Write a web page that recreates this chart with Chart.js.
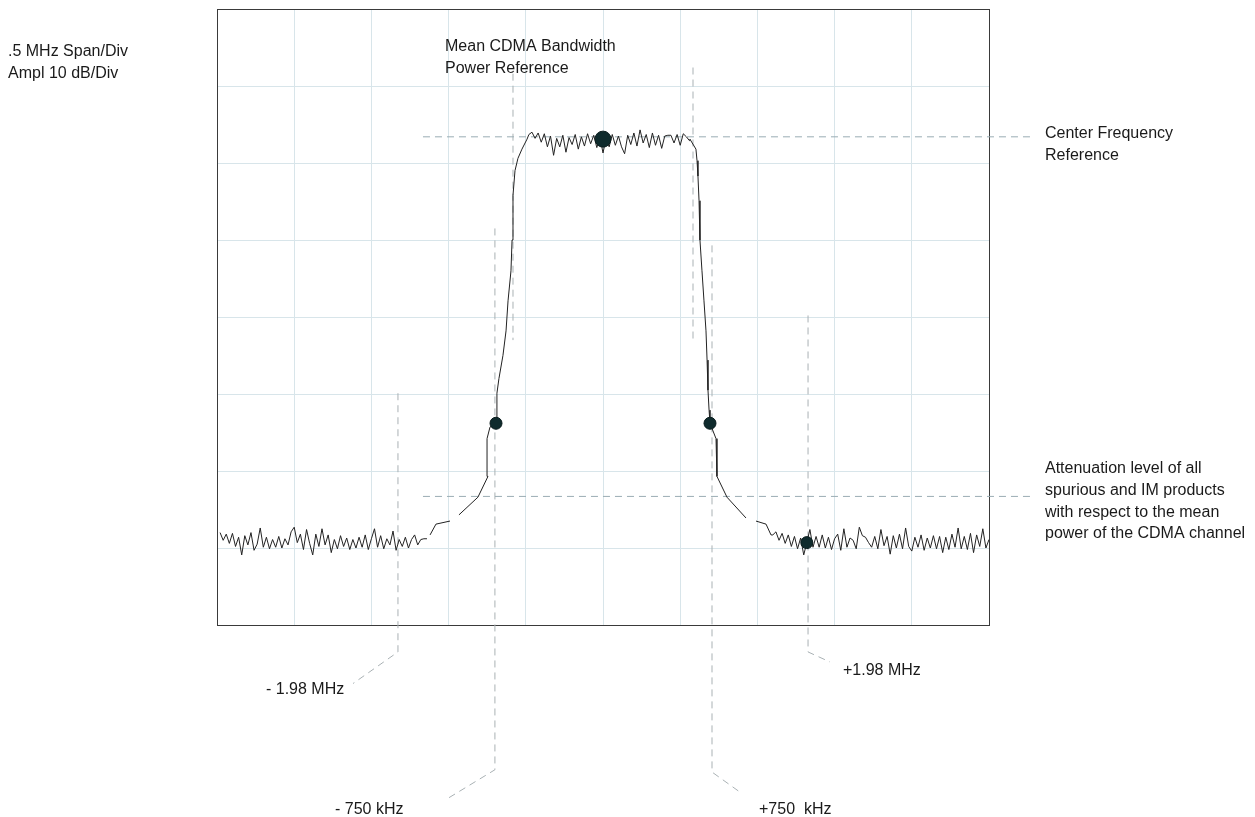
<!DOCTYPE html>
<html>
<head>
<meta charset="utf-8">
<title>CDMA spectrum mask</title>
<script src="https://cdn.jsdelivr.net/npm/chart.js@4.4.1/dist/chart.umd.min.js"></script>
<style>
    html, body { margin: 0; padding: 0; background: #fff; }
    canvas { display: block; }
</style>
</head>
<body>
<canvas id="spectrumChart" width="1255" height="817"></canvas>
<script>

// axes: offset from centre (MHz) and amplitude (dB)
const freqRange = [-2.5, 2.5];
const freqStep = 0.5;
const amplRange = [-80, 0];
const amplStep = 10;

// noise floor / plateau sampled every 0.02 MHz
const binStep = 0.02;

const leftFloorStart = -2.48;
const leftFloorDb = [
    -68.0, -69.0, -68.2, -69.4, -68.1, -69.8, -68.6, -70.9, -68.4, -69.6,
    -68.0, -70.3, -69.5, -67.4, -69.9, -68.6, -70.1, -68.9, -69.9, -68.5,
    -70.0, -68.8, -69.6, -67.9, -67.3, -69.3, -68.2, -70.2, -67.6, -69.4,
    -70.9, -68.2, -69.8, -67.5, -69.6, -68.3, -70.6, -68.9, -70.1, -68.4,
    -69.8, -68.7, -70.2, -68.9, -70.0, -68.6, -69.9, -68.3, -70.2, -68.8,
    -67.5, -69.9, -68.4, -70.1, -68.8, -69.6, -67.8, -70.3, -68.9, -69.8,
    -68.6, -70.0, -68.9, -68.3, -69.6, -68.9, -68.8, -68.8
];

const leftSkirtMhz = [-1.12, -1.082, -0.991, -0.96, -0.933, -0.81, -0.745, -0.751, -0.732, -0.693,
    -0.687, -0.687, -0.674, -0.648, -0.628, -0.615, -0.596, -0.589, -0.583, -0.57, -0.551, -0.525, -0.492];
const leftSkirtDb = [-68.3, -66.9, -66.5, null, -65.7, -63.4, -60.7, -55.8, -54.3, -53.8,
    -52.5, -49.9, -48.0, -45.0, -41.8, -37.9, -34.0, -30.0, -24.2, -21.0, -19.4, -18.2, -16.9];

const plateauStart = -0.48;
const plateauDb = [
    -16.3, -16.0, -16.8, -16.1, -17.3, -16.2, -17.9, -16.5, -19.0, -16.8,
    -17.9, -16.4, -18.6, -16.7, -17.6, -16.3, -18.2, -16.6, -17.8, -16.2,
    -17.5, -16.4, -18.0, -16.6, -18.7, -16.8, -17.9, -16.3, -17.7, -16.5,
    -17.9, -18.8, -16.4, -17.6, -16.1, -17.8, -15.7, -17.4, -16.3, -18.0,
    -16.1, -17.7, -16.4, -18.1, -16.5, -16.4, -16.4, -17.4, -16.3, -17.7,
    -16.2, -16.6, -17.1
];

const rightSkirtMhz = [0.563, 0.602, 0.609, 0.615, 0.622, 0.628, 0.641, 0.654, 0.667, 0.674,
    0.68, 0.687, 0.693, 0.732, 0.738, 0.803, 0.926, 0.96, 0.991, 1.056, 1.088];
const rightSkirtDb = [-16.9, -18.2, -19.7, -21.7, -24.9, -30.0, -34.0, -37.9, -41.8, -45.6,
    -49.5, -52.1, -53.8, -55.8, -60.7, -63.4, -66.1, null, -66.5, -66.9, -68.3];

const rightFloorStart = 1.10;
const rightFloorDb = [
    -68.3, -67.9, -69.0, -68.1, -69.4, -68.3, -69.8, -68.5, -70.1, -68.7,
    -70.9, -69.3, -67.6, -69.9, -68.5, -69.9, -68.3, -70.0, -68.6, -70.2,
    -68.8, -68.2, -70.3, -67.5, -69.9, -68.7, -69.0, -70.1, -67.3, -68.4,
    -68.6, -69.3, -69.9, -68.5, -70.1, -67.6, -69.7, -68.5, -70.8, -68.4,
    -70.0, -68.2, -70.1, -67.4, -69.8, -70.4, -68.6, -69.9, -68.3, -70.3,
    -68.7, -70.0, -68.4, -70.1, -68.5, -70.6, -68.6, -70.2, -68.2, -69.9,
    -67.4, -70.1, -68.5, -70.2, -68.1, -70.6, -68.3, -69.8, -67.5, -70.0,
    -68.9
];

// measurement markers
const markerMhz = [0, -0.693, 0.693, 1.32];
const markerDb = [-16.9, -53.8, -53.8, -69.3];
const markerSize = [8, 6, 6, 6];

// dashed reference / leader lines
const refSpanMhz = [-1.166, 2.785];
const centerRefDb = -16.6;
const attenRefDb = -63.3;
const leaderLines = [
    { mhz: [-0.583, -0.583], db: [-8.4, -43.0] },
    { mhz: [0.583, 0.583], db: [-7.6, -43.0] },
    { mhz: [-0.70, -0.70, -1.02], db: [-28.5, -98.8, -102.7] },
    { mhz: [0.706, 0.706, 0.887], db: [-30.7, -99.1, -101.7] },
    { mhz: [-1.328, -1.328, -1.619], db: [-49.9, -83.5, -87.6] },
    { mhz: [1.328, 1.328, 1.47], db: [-39.8, -83.5, -84.8] }
];

function bins(start, values) {
    return values.map((v, i) => ({ x: start + i * binStep, y: v }));
}

function pairs(xs, ys) {
    return xs.map((x, i) => ({ x: x, y: ys[i] }));
}

const traceData = []
    .concat(bins(leftFloorStart, leftFloorDb))
    .concat([{ x: -1.14, y: null }])
    .concat(pairs(leftSkirtMhz, leftSkirtDb))
    .concat(bins(plateauStart, plateauDb))
    .concat(pairs(rightSkirtMhz, rightSkirtDb))
    .concat(bins(rightFloorStart, rightFloorDb));

const refDatasets = [
    pairs(refSpanMhz, [centerRefDb, centerRefDb]),
    pairs(refSpanMhz, [attenRefDb, attenRefDb])
].concat(leaderLines.map(l => pairs(l.mhz, l.db))).map((d, i) => ({
    data: d,
    borderColor: i < 2 ? "#9aacb4" : "#a9b1b4",
    borderWidth: 1,
    borderDash: [7, 5],
    pointRadius: 0,
    clip: false,
    order: 3
}));

// labels outside the plot
const labelFont = "16px 'Liberation Sans', Arial, sans-serif";
const notes = [
    { text: ".5 MHz Span/Div", x: 8, y: 56 },
    { text: "Ampl 10 dB/Div", x: 8, y: 78 },
    { text: "Mean CDMA Bandwidth", x: 445, y: 51 },
    { text: "Power Reference", x: 445, y: 73 },
    { text: "Center Frequency", x: 1045, y: 138 },
    { text: "Reference", x: 1045, y: 160 },
    { text: "Attenuation level of all", x: 1045, y: 473 },
    { text: "spurious and IM products", x: 1045, y: 495 },
    { text: "with respect to the mean", x: 1045, y: 517 },
    { text: "power of the CDMA channel", x: 1045, y: 538 },
    { text: "- 1.98 MHz", x: 266, y: 694 },
    { text: "+1.98 MHz", x: 843, y: 675 },
    { text: "- 750 kHz", x: 335, y: 814 },
    { text: "+750  kHz", x: 759, y: 814 }
];

const frameAndNotes = {
    id: "frameAndNotes",
    beforeDatasetsDraw(chart) {
        const a = chart.chartArea;
        const ctx = chart.ctx;
        ctx.save();
        ctx.strokeStyle = "#3a3a3a";
        ctx.lineWidth = 1;
        ctx.strokeRect(Math.round(a.left) + 0.5, Math.round(a.top) + 0.5,
            Math.round(a.right - a.left), Math.round(a.bottom - a.top));
        ctx.restore();
    },
    afterDraw(chart) {
        const ctx = chart.ctx;
        ctx.save();
        ctx.font = labelFont;
        ctx.fillStyle = "#1a1a1a";
        ctx.textBaseline = "alphabetic";
        notes.forEach(n => ctx.fillText(n.text, n.x, n.y));
        ctx.restore();
    }
};

new Chart(document.getElementById("spectrumChart"), {
    type: "line",
    data: {
        datasets: [
            {
                data: pairs(markerMhz, markerDb),
                showLine: false,
                pointRadius: markerSize,
                pointBackgroundColor: "#0f2b2d",
                pointBorderColor: "#0a1c1d",
                pointBorderWidth: 1,
                order: 0
            },
            {
                data: traceData,
                borderColor: "#222222",
                borderWidth: 1,
                pointRadius: 0,
                spanGaps: false,
                tension: 0,
                order: 1
            }
        ].concat(refDatasets)
    },
    options: {
        responsive: false,
        animation: false,
        events: [],
        layout: {
            padding: { left: 217, top: 8, right: 266, bottom: 192 }
        },
        plugins: {
            legend: { display: false },
            tooltip: { enabled: false }
        },
        scales: {
            x: {
                type: "linear",
                min: freqRange[0],
                max: freqRange[1],
                ticks: { display: false, stepSize: freqStep },
                grid: { color: "#d8e5ea", drawTicks: false },
                border: { display: false }
            },
            y: {
                type: "linear",
                min: amplRange[0],
                max: amplRange[1],
                ticks: { display: false, stepSize: amplStep },
                grid: { color: "#d8e5ea", drawTicks: false },
                border: { display: false }
            }
        }
    },
    plugins: [frameAndNotes]
});
</script>
</body>
</html>
